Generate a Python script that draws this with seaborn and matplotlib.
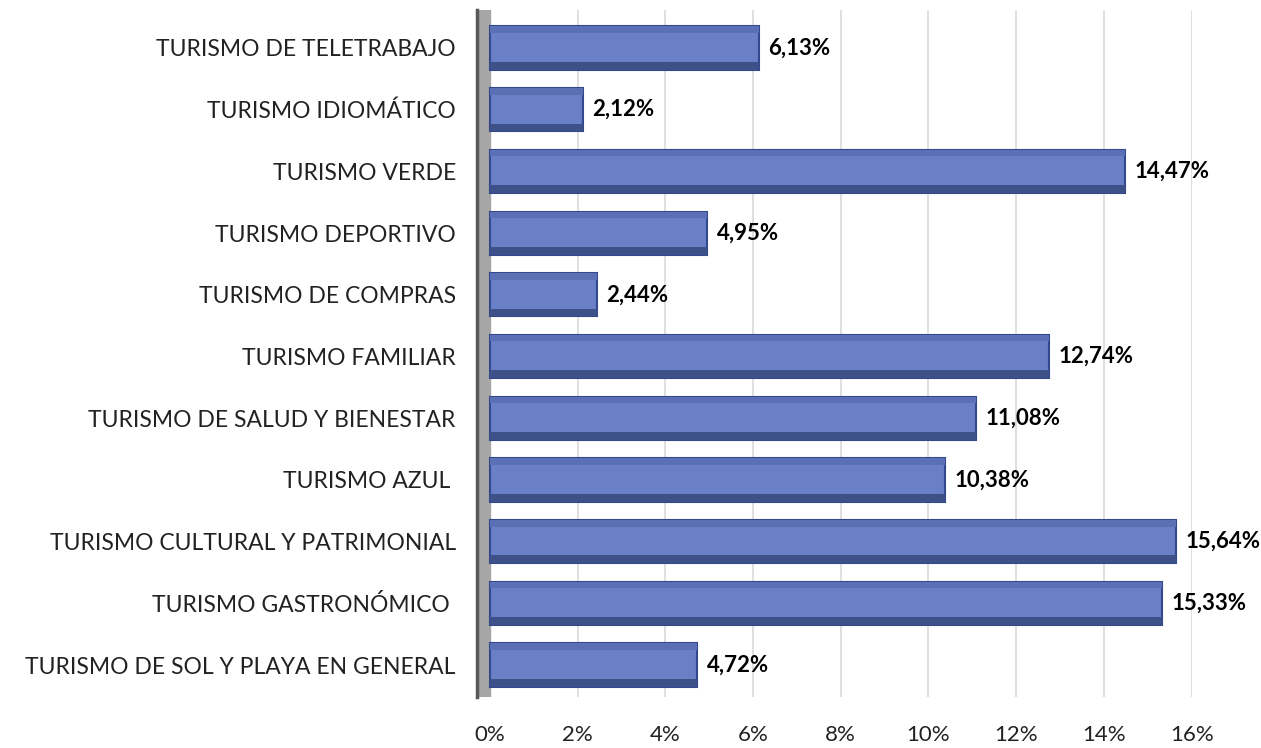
import matplotlib
matplotlib.use("Agg")
import matplotlib.pyplot as plt
from matplotlib.patches import Rectangle
import pandas as pd
import seaborn as sns

categories = [
    "TURISMO DE TELETRABAJO",
    "TURISMO IDIOMÁTICO",
    "TURISMO VERDE",
    "TURISMO DEPORTIVO",
    "TURISMO DE COMPRAS",
    "TURISMO FAMILIAR",
    "TURISMO DE SALUD Y BIENESTAR",
    "TURISMO AZUL ",
    "TURISMO CULTURAL Y PATRIMONIAL",
    "TURISMO GASTRONÓMICO ",
    "TURISMO DE SOL Y PLAYA EN GENERAL",
]
values = [6.13, 2.12, 14.47, 4.95, 2.44, 12.74, 11.08, 10.38, 15.64, 15.33, 4.72]
xticks = [0, 2, 4, 6, 8, 10, 12, 14, 16]

df = pd.DataFrame({"categoria": categories, "valor": values})

sns.set_style("white")
plt.rcParams["font.family"] = ["Lato", "DejaVu Sans"]

fig = plt.figure(figsize=(12.61, 7.48), dpi=100)
ax = fig.add_axes([0.378, 0.068, 0.567, 0.919])

sns.barplot(data=df, x="valor", y="categoria", orient="h", color="#6A80C6",
            saturation=1, width=0.7, edgecolor="#34488E", linewidth=1.5, ax=ax,
            zorder=3)

# fake 3D: darker bottom face and lighter top face on each bar
for p in list(ax.patches):
    x, y = p.get_x(), p.get_y()
    w, h = p.get_width(), p.get_height()
    ax.add_patch(Rectangle((x, y + h * 0.82), w, h * 0.18, facecolor="#3E5088",
                           edgecolor="none", zorder=4))
    ax.add_patch(Rectangle((x, y), w, h * 0.15, facecolor="#5B70B4",
                           edgecolor="none", zorder=4))

labels = [f"{v:.2f}".replace(".", ",") + "%" for v in values]
ax.bar_label(ax.containers[0], labels=labels, padding=7, fontsize=16,
             fontweight="bold", color="black")

ax.set_xlim(-0.3, 16)
ax.set_ylim(10.52, -0.62)
ax.axvspan(-0.3, 0, color="#A6A6A6", zorder=2)

ax.set_xticks(xticks)
ax.set_xticklabels([f"{t}%" for t in xticks], fontsize=16, color="#222222")
ax.xaxis.grid(True, color="#D9D9D9", linewidth=1.2, zorder=0)
ax.tick_params(axis="x", length=0, pad=20)
ax.tick_params(axis="y", length=0, pad=15, labelsize=16.5, labelcolor="#222222")

for side in ["top", "right", "bottom"]:
    ax.spines[side].set_visible(False)
ax.spines["left"].set_color("#595959")
ax.spines["left"].set_linewidth(2.5)

ax.set_xlabel("")
ax.set_ylabel("")

fig.savefig("out.png", dpi=100)
